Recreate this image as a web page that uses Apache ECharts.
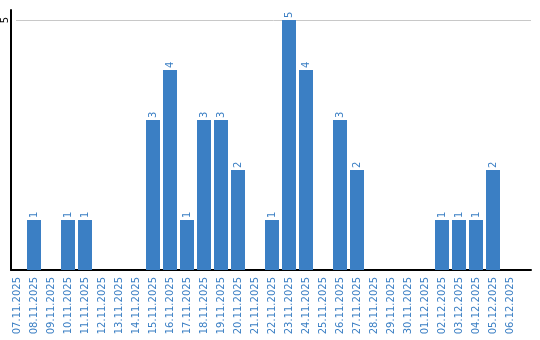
<!DOCTYPE html>
<html><head><meta charset="utf-8">
<script src="https://cdn.jsdelivr.net/npm/echarts@6/dist/echarts.min.js"></script>
<style>html,body{margin:0;padding:0;background:#fff}#c{width:540px;height:340px}</style>
</head><body><div id="c"></div>
<script>
var categories = ["07.11.2025","08.11.2025","09.11.2025","10.11.2025","11.11.2025","12.11.2025","13.11.2025","14.11.2025","15.11.2025","16.11.2025","17.11.2025","18.11.2025","19.11.2025","20.11.2025","21.11.2025","22.11.2025","23.11.2025","24.11.2025","25.11.2025","26.11.2025","27.11.2025","28.11.2025","29.11.2025","30.11.2025","01.12.2025","02.12.2025","03.12.2025","04.12.2025","05.12.2025","06.12.2025"];
var values = [0,1,0,1,1,0,0,0,3,4,1,3,3,2,0,1,5,4,0,3,2,0,0,0,0,1,1,1,2,0];
var yTicks = [5];

var font = 'DejaVu Sans';
var blue = '#3b7fc4';
var chart = echarts.init(document.getElementById('c'), null, {renderer:'canvas'});
chart.setOption({
  animation:false,
  grid:[
    {left:8.5, width:510, top:10, bottom:70},
    {left:11, right:9, top:10, bottom:70},
    {left:11, right:9, top:20, bottom:70}
  ],
  xAxis:[
    {type:'category', gridIndex:0, data:categories,
     axisLine:{show:false}, axisTick:{show:false},
     axisLabel:{rotate:90, interval:0, color:blue, fontFamily:font, fontSize:10, margin:7}},
    {type:'value', gridIndex:1, min:0, max:1,
     axisLine:{show:true, lineStyle:{color:'#000', width:2}}, axisTick:{show:false},
     axisLabel:{show:false}, splitLine:{show:false}},
    {type:'value', gridIndex:2, min:0, max:1, show:false}
  ],
  yAxis:[
    {type:'value', gridIndex:0, min:0, max:5.2, show:false},
    {type:'value', gridIndex:1, min:0, max:5.2,
     axisLine:{show:true, lineStyle:{color:'#000', width:2}}, axisTick:{show:false},
     axisLabel:{show:false}, splitLine:{show:false}},
    {type:'value', gridIndex:2, min:0, max:5, interval:5,
     axisLine:{show:false}, axisTick:{show:false},
     axisLabel:{rotate:90, color:'#000', fontFamily:font, fontSize:10, margin:6,
       showMinLabel:false,
       formatter:function(v){return yTicks.indexOf(v)>=0?String(v):'';}},
     splitLine:{show:true, lineStyle:{color:'#c8c8c8', width:1}}}
  ],
  series:[{
    type:'bar', xAxisIndex:0, yAxisIndex:0, data:values, barWidth:14,
    itemStyle:{color:blue},
    label:{show:true, position:'top', rotate:90, align:'left', verticalAlign:'middle', distance:2,
      color:blue, fontFamily:font, fontSize:10,
      formatter:function(p){return p.value>0?String(p.value):'';}}
  }]
});
</script></body></html>
